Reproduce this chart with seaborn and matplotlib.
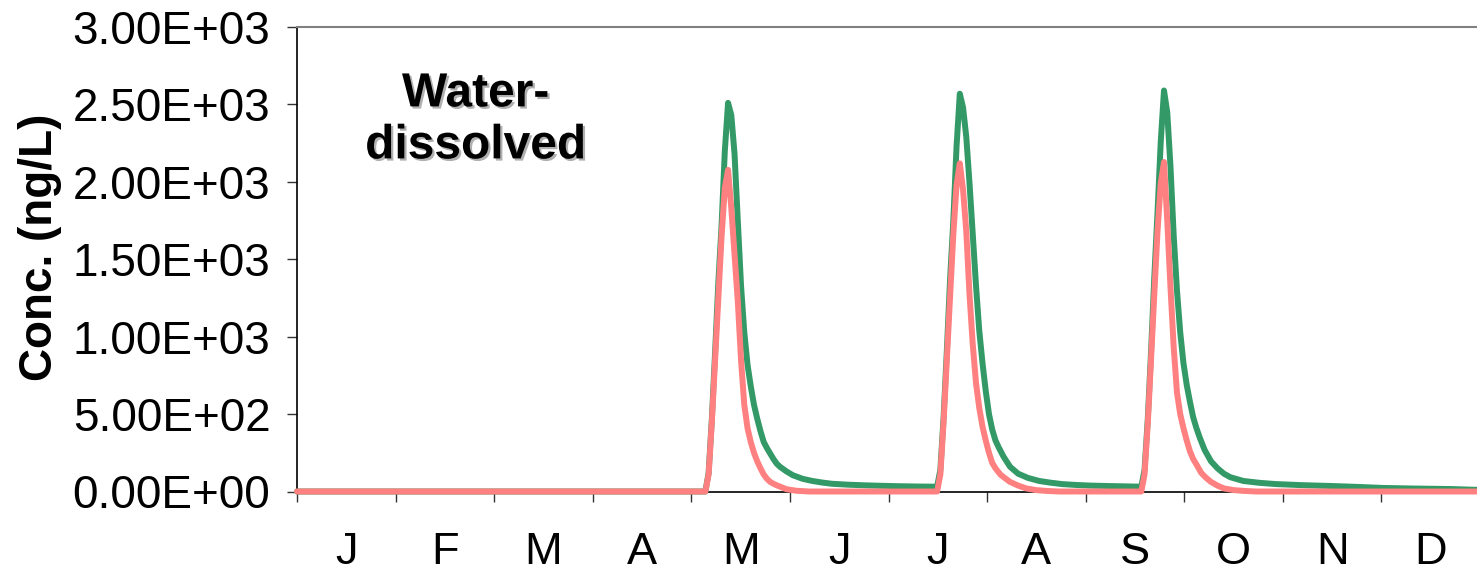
import matplotlib
matplotlib.use("Agg")
import matplotlib.pyplot as plt
import seaborn as sns
from matplotlib import patheffects as pe

# ---------------- data ----------------
months = ["J", "F", "M", "A", "M", "J", "J", "A", "S", "O", "N", "D"]
ytick_values = [0, 500, 1000, 1500, 2000, 2500, 3000]
ytick_labels = ["0.00E+00", "5.00E+02", "1.00E+03", "1.50E+03",
                "2.00E+03", "2.50E+03", "3.00E+03"]

# green series (day of year, ng/L)
green_day = [0, 126, 127, 128, 129, 130, 131, 132, 133, 134, 135, 136, 137, 138,
             139, 140, 141, 142, 143, 144, 145, 146, 147, 148, 149,
             151, 153, 156, 159, 162, 165, 170, 175, 180, 186, 192, 197.5,
             198.5, 199.5, 200.5, 201.5, 202.5, 203.5, 204.5, 205.5, 206.5, 207.5,
             208.5, 209.5, 210.5, 211.5, 212.5, 213.5, 214.5, 215.5, 216.5,
             218, 220, 222.5, 225.5, 229, 232.5, 236, 240.5, 245, 251, 256, 260.5,
             261.5, 262.5, 263.5, 264.5, 265.5, 266.5, 267.5, 268.5, 269.5, 270.5,
             271.5, 272.5, 273.5, 274.5, 275.5, 276.5, 277.5, 278.5,
             280, 282, 284, 286, 288, 292, 297, 302, 310, 320, 328, 335, 345, 356, 365]
green_ngL = [0, 0, 120, 470, 900, 1350, 1720, 2200, 2510, 2430, 2180, 1750, 1330, 1030,
             820, 680, 560, 470, 390, 320, 280, 245, 210, 180, 160,
             130, 105, 82, 68, 58, 50, 44, 40, 37, 34, 32, 31,
             140, 480, 910, 1370, 1750, 2230, 2569, 2480, 2290, 1990,
             1660, 1330, 1040, 830, 650, 500, 400, 330, 285,
             225, 160, 115, 88, 68, 57, 48, 42, 38, 35, 33, 31,
             140, 470, 900, 1380, 1800, 2260, 2590, 2450, 2100, 1650,
             1300, 1030, 830, 690, 580, 480, 410, 350,
             270, 195, 150, 115, 92, 68, 56, 48, 41, 35, 29, 23, 19, 16, 10]

# red series (day of year, ng/L)
red_day = [0, 126, 127, 128, 129, 130, 131, 132, 133, 134, 135, 136, 137, 138,
           139, 140, 141, 142, 143, 144, 145, 146, 147, 148,
           151, 154, 158, 197.5,
           198.5, 199.5, 200.5, 201.5, 202.5, 203.5, 204.5, 205.5, 206.5, 207.5,
           208.5, 209.5, 210.5, 211.5, 212.5, 213.5, 214.5, 215.5,
           217, 218.5, 220, 222.5, 225, 228, 231, 235, 260.5,
           261.5, 262.5, 263.5, 264.5, 265.5, 266.5, 267.5, 268.5, 269.5, 270.5,
           271.5, 272.5, 273.5, 274.5, 275.5, 276.5, 277.5,
           279, 280.5, 282, 284, 286, 289, 292, 296, 365]
red_ngL = [0, 0, 110, 450, 850, 1250, 1650, 1960, 2077, 1830, 1530, 1230, 850, 560,
           410, 320, 250, 195, 150, 110, 82, 62, 50, 40,
           15, 5, 0, 0,
           110, 450, 850, 1260, 1660, 1980, 2119, 1950, 1680, 1270,
           950, 700, 540, 420, 330, 250, 185, 150,
           110, 85, 62, 38, 20, 9, 4, 0, 0,
           110, 440, 850, 1270, 1680, 1990, 2128, 1750, 1320, 930,
           640, 500, 410, 330, 260, 210, 175,
           120, 88, 62, 38, 20, 9, 4, 0, 0]

assert len(green_day) == len(green_ngL)
assert len(red_day) == len(red_ngL)

# ---------------- styling ----------------
sns.set_style("white")
plt.rcParams['font.family'] = ['Liberation Sans', 'DejaVu Sans']
plt.rcParams['text.color'] = 'black'

W, H = 1477, 576
fig = plt.figure(figsize=(W / 100, H / 100), dpi=100)
ax = fig.add_axes([297 / W, 84.5 / H, 1183 / W, 464.5 / H])

sns.lineplot(x=green_day, y=green_ngL, color="#339966", linewidth=4.3,
             estimator=None, ax=ax, zorder=3, clip_on=False)
sns.lineplot(x=red_day, y=red_ngL, color="#FF8080", linewidth=4.3,
             estimator=None, ax=ax, zorder=4, clip_on=False)

ax.set_xlim(0, 365)
ax.set_ylim(0, 3000)

month_len = 365 / 12
ax.set_xticks([i * month_len for i in range(13)])
ax.set_xticklabels([""] * 13)
ax.set_xticks([(i + 0.5) * month_len for i in range(12)], minor=True)
ax.set_xticklabels(months, minor=True)
ax.tick_params(axis='x', which='major', direction='out', length=7.2, width=1.0,
               color='#333333', bottom=True)
ax.tick_params(axis='x', which='minor', length=0, pad=29, labelsize=32.5,
               labelcolor='black', bottom=True)

ax.set_yticks(ytick_values)
ax.set_yticklabels(ytick_labels)
ax.tick_params(axis='y', direction='out', length=7.2, width=1.0, color='#333333',
               pad=12, labelsize=33, labelcolor='black', left=True)

ax.set_xlabel("")
ax.set_ylabel("")
for s in ["left", "bottom"]:
    ax.spines[s].set_color("black")
    ax.spines[s].set_linewidth(1.2)
ax.spines["top"].set_color("#808080")
ax.spines["top"].set_linewidth(1.5)
ax.spines["right"].set_visible(False)

fig.text(40 / W, 1 - 247.5 / H, "Conc. (ng/L)", rotation=90, ha='center',
         va='center', fontsize=33, fontweight='bold', color='black')

ax.text(0.151, 0.80, "Water-\ndissolved", transform=ax.transAxes, ha='center',
        va='center', fontsize=34.5, fontweight='bold', linespacing=1.2,
        color='black',
        path_effects=[pe.withSimplePatchShadow(offset=(1.6, -1.6),
                                               shadow_rgbFace='#b0b0b0',
                                               alpha=1.0)])

fig.savefig("out.png", dpi=100)
